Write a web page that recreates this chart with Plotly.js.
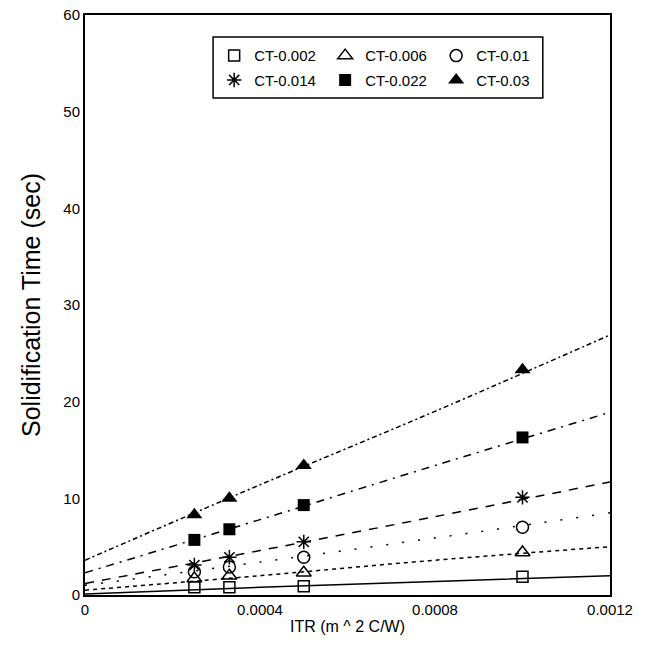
<!DOCTYPE html>
<html>
<head>
<meta charset="utf-8">
<script src="https://cdn.plot.ly/plotly-3.0.1.min.js"></script>
<style>
  html, body { margin: 0; padding: 0; background: #fff; }
  #chart { width: 658px; height: 655px; }
</style>
</head>
<body>
<div id="chart"></div>
<script>
// Interfacial thermal resistance values at which solidification time was measured
const itr = [0.00025, 0.00033, 0.0005, 0.001];

// Series names (casting thickness)
const seriesNames = ['CT-0.002', 'CT-0.006', 'CT-0.01', 'CT-0.014', 'CT-0.022', 'CT-0.03'];

// Measured solidification times (sec)
const ct0002 = [0.8, 0.8, 0.9, 1.9];
const ct0006 = [1.7, 2.0, 2.3, 4.4];
const ct001  = [2.4, 2.9, 3.9, 7.0];
const ct0014 = [3.1, 3.9, 5.5, 10.1];
const ct0022 = [5.7, 6.8, 9.3, 16.3];
const ct003  = [8.3, 10.0, 13.4, 23.3];

// Fitted curves, sampled across the ITR range
const fitItr = [0, 0.0004, 0.0008, 0.0012];
const fit0002 = [0.1, 0.8, 1.4, 2.0];
const fit0006 = [0.5, 2.0, 3.6, 5.0];
const fit001  = [1.0, 3.4, 5.9, 8.5];
const fit0014 = [1.2, 4.6, 8.1, 11.7];
const fit0022 = [2.3, 7.8, 13.4, 18.9];
const fit003  = [3.6, 11.4, 19.0, 26.9];

// Axis ticks
const xTicks = [0, 0.0004, 0.0008, 0.0012];
const xTickText = ['0', '0.0004', '0.0008', '0.0012'];
const yTicks = [0, 10, 20, 30, 40, 50, 60];

const measured = [ct0002, ct0006, ct001, ct0014, ct0022, ct003];
const fits = [fit0002, fit0006, fit001, fit0014, fit0022, fit003];

const markerStyles = [
  { symbol: 'square-open', size: 11, line: { width: 1.5, color: '#000' } },
  { symbol: 'triangle-up-open', size: 13, line: { width: 1.5, color: '#000' } },
  { symbol: 'circle-open', size: 12, line: { width: 1.5, color: '#000' } },
  { symbol: 'asterisk-open', size: 12, line: { width: 1.5, color: '#000' } },
  { symbol: 'square', size: 12, color: '#000', line: { width: 0 } },
  { symbol: 'triangle-up', size: 14, color: '#000', line: { width: 0 } }
];
const dashStyles = ['solid', '4px,4px', '2px,14px', '9px,8px', '8px,6px,2px,6px', '5px,3px,2px,3px'];

// Three series per legend row: first row in "legend", second in "legend2"
const traces = [];
seriesNames.forEach((name, i) => {
  const legendId = i < 3 ? 'legend' : 'legend2';
  traces.push({
    x: fitItr, y: fits[i], type: 'scatter', mode: 'lines',
    line: { color: '#000', width: 1.5, dash: dashStyles[i], shape: 'spline' },
    legendgroup: name, showlegend: false, hoverinfo: 'skip'
  });
  traces.push({
    x: itr, y: measured[i], type: 'scatter', mode: 'markers',
    name: name, legendgroup: name, legend: legendId,
    marker: Object.assign({ color: '#000' }, markerStyles[i])
  });
});

const font = { family: 'Liberation Sans, Arial, sans-serif', color: '#000' };

const legendRow = (yTop) => ({
  orientation: 'h',
  x: 0.246, y: yTop, xanchor: 'left', yanchor: 'top',
  entrywidth: 66, entrywidthmode: 'pixels',
  itemwidth: 30,
  borderwidth: 0, bgcolor: 'rgba(0,0,0,0)',
  font: Object.assign({}, font, { size: 15 }),
  traceorder: 'normal', tracegroupgap: 0
});

const layout = {
  width: 658, height: 655,
  margin: { l: 85, r: 48, t: 15, b: 60 },
  paper_bgcolor: '#fff', plot_bgcolor: '#fff',
  font: font,
  showlegend: true,
  legend: legendRow(0.958),
  legend2: legendRow(0.916),
  // frame around both legend rows
  shapes: [{
    type: 'rect', xref: 'paper', yref: 'paper',
    x0: 0.244, x1: 0.872, y0: 0.857, y1: 0.962,
    line: { color: '#000', width: 1.5 }, fillcolor: 'rgba(0,0,0,0)', layer: 'above'
  }],
  xaxis: {
    range: [0, 0.0012],
    tickvals: xTicks, ticktext: xTickText,
    showgrid: false, zeroline: false,
    showline: true, linecolor: '#000', linewidth: 2, mirror: true,
    ticks: '', tickfont: Object.assign({}, font, { size: 15 }),
    title: { text: 'ITR (m ^ 2 C/W)', font: Object.assign({}, font, { size: 16 }), standoff: 4 }
  },
  yaxis: {
    range: [0, 60],
    tickvals: yTicks,
    showgrid: false, zeroline: false,
    showline: true, linecolor: '#000', linewidth: 2, mirror: true,
    ticks: '', tickfont: Object.assign({}, font, { size: 15 }),
    title: { text: 'Solidification Time (sec)', font: Object.assign({}, font, { size: 25 }), standoff: 16 }
  }
};

Plotly.newPlot('chart', traces, layout, { displayModeBar: false, staticPlot: true });
</script>
</body>
</html>
